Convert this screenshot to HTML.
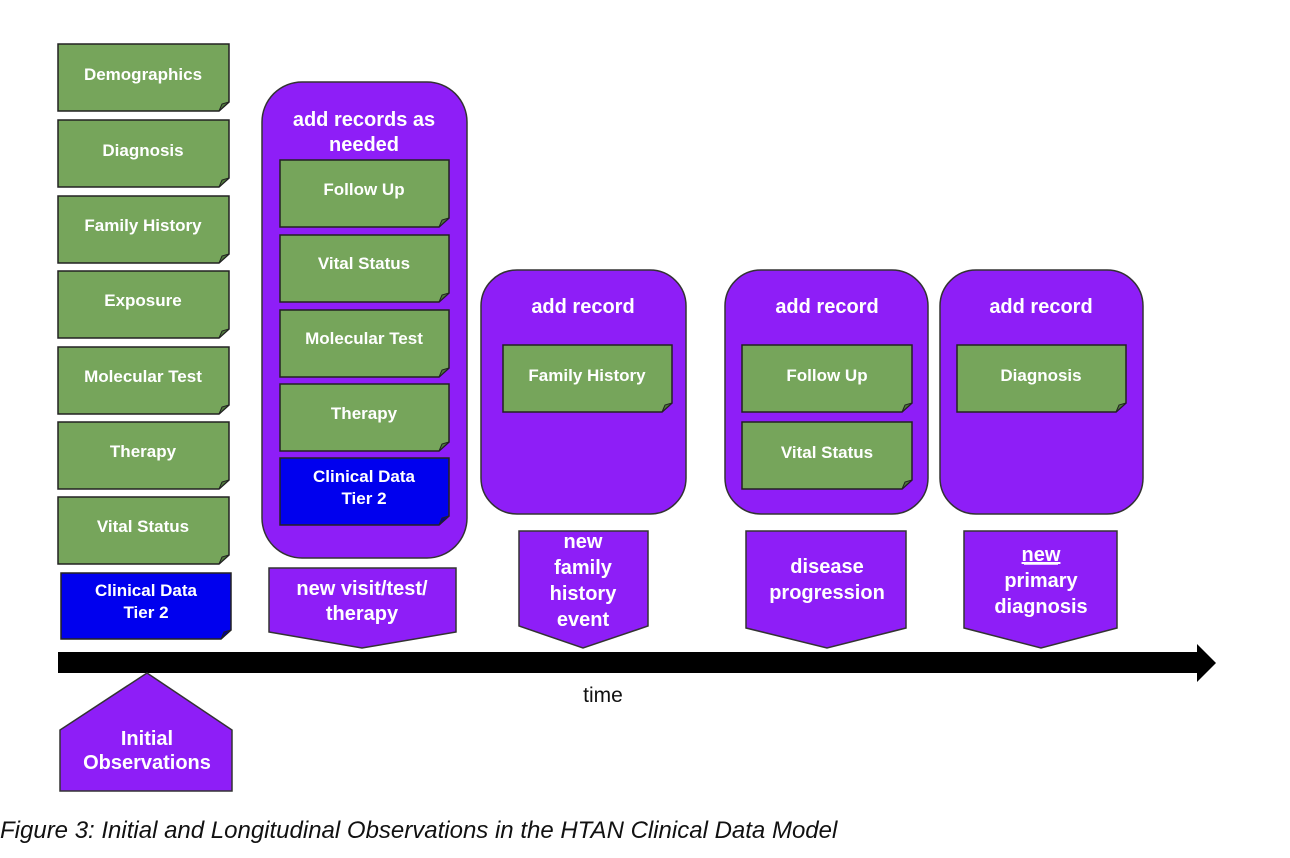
<!DOCTYPE html>
<html><head><meta charset="utf-8"><style>
html,body{margin:0;padding:0;background:#fff;}
svg{display:block;}
text{font-family:"Liberation Sans",Arial,sans-serif;font-weight:bold;fill:#fff;text-anchor:middle;}
.g{fill:#76a55b;stroke:#222;stroke-width:1.5;}
.b{fill:#0000ee;stroke:#222;stroke-width:1.5;}
.p{fill:#8e1ef7;stroke:#333;stroke-width:1.5;}
.f{fill:#4f7a3b;stroke:#222;stroke-width:1;}
.fb{fill:#000099;stroke:#222;stroke-width:1;}
.s{font-size:17px;}
.l{font-size:20px;}
</style></head><body>
<svg width="1290" height="858" viewBox="0 0 1290 858" xmlns="http://www.w3.org/2000/svg">
<!-- left column -->
<g>
<path class="g" d="M58,44H229V102L219,111H58Z"/><path class="f" d="M219,111L222,104L229,102Z"/><text class="s" x="143" y="80">Demographics</text>
<path class="g" d="M58,120H229V178L219,187H58Z"/><path class="f" d="M219,187L222,180L229,178Z"/><text class="s" x="143" y="156">Diagnosis</text>
<path class="g" d="M58,196H229V254L219,263H58Z"/><path class="f" d="M219,263L222,256L229,254Z"/><text class="s" x="143" y="231">Family History</text>
<path class="g" d="M58,271H229V329L219,338H58Z"/><path class="f" d="M219,338L222,331L229,329Z"/><text class="s" x="143" y="306">Exposure</text>
<path class="g" d="M58,347H229V405L219,414H58Z"/><path class="f" d="M219,414L222,407L229,405Z"/><text class="s" x="143" y="382">Molecular Test</text>
<path class="g" d="M58,422H229V480L219,489H58Z"/><path class="f" d="M219,489L222,482L229,480Z"/><text class="s" x="143" y="457">Therapy</text>
<path class="g" d="M58,497H229V555L219,564H58Z"/><path class="f" d="M219,564L222,557L229,555Z"/><text class="s" x="143" y="532">Vital Status</text>
<path class="b" d="M61,573H231V630L221,639H61Z"/><path class="fb" d="M221,639L224,632L231,630Z"/><text class="s" x="146" y="596">Clinical Data</text><text class="s" x="146" y="618">Tier 2</text>
</g>
<!-- box 1 -->
<rect class="p" x="262" y="82" width="205" height="476" rx="40"/>
<text class="l" x="364" y="126">add records as</text><text class="l" x="364" y="151">needed</text>
<path class="g" d="M280,160H449V218L439,227H280Z"/><path class="f" d="M439,227L442,220L449,218Z"/><text class="s" x="364" y="195">Follow Up</text>
<path class="g" d="M280,235H449V293L439,302H280Z"/><path class="f" d="M439,302L442,295L449,293Z"/><text class="s" x="364" y="269">Vital Status</text>
<path class="g" d="M280,310H449V368L439,377H280Z"/><path class="f" d="M439,377L442,370L449,368Z"/><text class="s" x="364" y="344">Molecular Test</text>
<path class="g" d="M280,384H449V442L439,451H280Z"/><path class="f" d="M439,451L442,444L449,442Z"/><text class="s" x="364" y="419">Therapy</text>
<path class="b" d="M280,458H449V516L439,525H280Z"/><path class="fb" d="M439,525L442,518L449,516Z"/><text class="s" x="364" y="482">Clinical Data</text><text class="s" x="364" y="504">Tier 2</text>
<path class="p" d="M269,568H456V632L362,648L269,632Z"/>
<text class="l" x="362" y="595">new visit/test/</text><text class="l" x="362" y="620">therapy</text>
<!-- box 2 -->
<rect class="p" x="481" y="270" width="205" height="244" rx="36"/>
<text class="l" x="583" y="313">add record</text>
<path class="g" d="M503,345H672V403L662,412H503Z"/><path class="f" d="M662,412L665,405L672,403Z"/><text class="s" x="587" y="381">Family History</text>
<path class="p" d="M519,531H648V626L583,648L519,626Z"/>
<text class="l" x="583" y="548">new</text><text class="l" x="583" y="574">family</text><text class="l" x="583" y="600">history</text><text class="l" x="583" y="626">event</text>
<!-- box 3 -->
<rect class="p" x="725" y="270" width="203" height="244" rx="36"/>
<text class="l" x="827" y="313">add record</text>
<path class="g" d="M742,345H912V403L902,412H742Z"/><path class="f" d="M902,412L905,405L912,403Z"/><text class="s" x="827" y="381">Follow Up</text>
<path class="g" d="M742,422H912V480L902,489H742Z"/><path class="f" d="M902,489L905,482L912,480Z"/><text class="s" x="827" y="458">Vital Status</text>
<path class="p" d="M746,531H906V628L827,648L746,628Z"/>
<text class="l" x="827" y="573">disease</text><text class="l" x="827" y="599">progression</text>
<!-- box 4 -->
<rect class="p" x="940" y="270" width="203" height="244" rx="36"/>
<text class="l" x="1041" y="313">add record</text>
<path class="g" d="M957,345H1126V403L1116,412H957Z"/><path class="f" d="M1116,412L1119,405L1126,403Z"/><text class="s" x="1041" y="381">Diagnosis</text>
<path class="p" d="M964,531H1117V628L1041,648L964,628Z"/>
<text class="l" x="1041" y="561" text-decoration="underline">new</text><text class="l" x="1041" y="587">primary</text><text class="l" x="1041" y="613">diagnosis</text>
<line x1="1024" y1="564" x2="1058" y2="564" stroke="#fff" stroke-width="1.5"/>
<!-- timeline -->
<path d="M58,652H1197V644L1216,663L1197,682V673H58Z" fill="#000"/>
<text x="603" y="702" style="font-weight:normal;fill:#111;font-size:21px;">time</text>
<!-- initial -->
<path class="p" d="M147,673L232,730V791H60V730Z"/>
<text class="l" x="147" y="745">Initial</text><text class="l" x="147" y="769">Observations</text>
<text x="0" y="838" style="font-weight:normal;font-style:italic;fill:#111;font-size:24px;text-anchor:start;">Figure 3: Initial and Longitudinal Observations in the HTAN Clinical Data Model</text>
</svg>
</body></html>
